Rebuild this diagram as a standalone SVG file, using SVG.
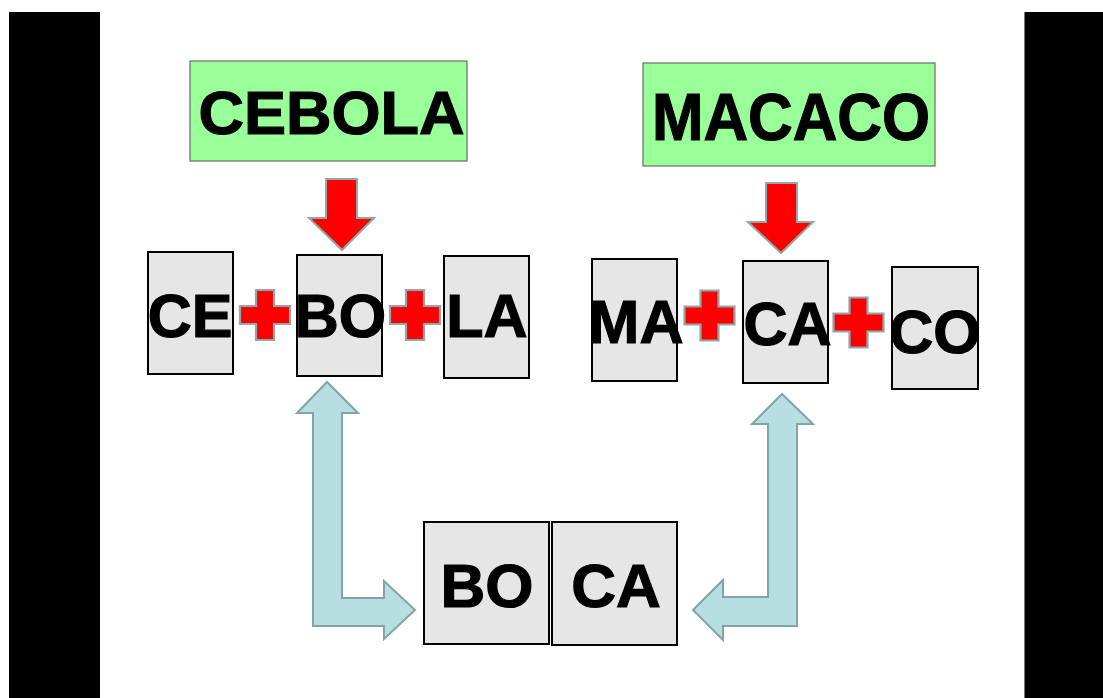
<svg xmlns="http://www.w3.org/2000/svg" width="1103" height="698" viewBox="0 0 1103 698">
  <style>
    .word { fill: #99FF99; stroke: #6b6b6b; stroke-width: 1.2; }
    .syl { fill: #E6E6E6; stroke: #000; stroke-width: 2; }
    .t { font-family: "Liberation Sans", Arial, sans-serif; font-weight: bold; fill: #000; stroke: #000; stroke-width: 1.2; text-anchor: middle; }
    .plus { fill: #FF0000; stroke: #8FA8AB; stroke-width: 2.2; }
    .down { fill: #FF0000; stroke: #8FA8AB; stroke-width: 2; }
    .link { fill: #B7DEE1; stroke: #82A4A7; stroke-width: 2; }
  </style>
  <defs>
    <path id="plusShape" d="M -9 -25 H 9 V -9 H 25 V 9 H 9 V 25 H -9 V 9 H -25 V -9 H -9 Z"/>
  </defs>

  <rect width="1103" height="698" fill="#fff"/>
  <!-- side bars -->
  <rect x="9" y="12" width="91" height="686" fill="#000"/>
  <rect x="1024" y="12" width="79" height="686" fill="#000"/>
  <line x1="1024.5" y1="12" x2="1024.5" y2="698" stroke="#777" stroke-width="1"/>

  <!-- whole words -->
  <g id="cebola">
    <rect class="word" x="190" y="61" width="277" height="100"/>
    <text class="t" x="331.5" y="134" font-size="62" textLength="266" lengthAdjust="spacingAndGlyphs">CEBOLA</text>
  </g>
  <g id="macaco">
    <rect class="word" x="643" y="63" width="292" height="103"/>
    <text class="t" x="791" y="140" font-size="66" textLength="278" lengthAdjust="spacingAndGlyphs">MACACO</text>
  </g>

  <!-- syllables -->
  <g id="ce">
    <rect class="syl" x="148" y="252" width="85" height="122"/>
    <text class="t" x="190" y="337" font-size="61">CE</text>
  </g>
  <g id="bo1">
    <rect class="syl" x="297" y="255" width="85" height="121"/>
    <text class="t" x="340.5" y="337" font-size="61">BO</text>
  </g>
  <g id="la">
    <rect class="syl" x="444" y="256" width="85" height="122"/>
    <text class="t" x="487" y="337" font-size="61">LA</text>
  </g>
  <g id="ma">
    <rect class="syl" x="592" y="259" width="85" height="122"/>
    <text class="t" x="636" y="343" font-size="61">MA</text>
  </g>
  <g id="ca1">
    <rect class="syl" x="743" y="261" width="85" height="122"/>
    <text class="t" x="787.5" y="345" font-size="61">CA</text>
  </g>
  <g id="co">
    <rect class="syl" x="892" y="267" width="86" height="122"/>
    <text class="t" x="935" y="353" font-size="61">CO</text>
  </g>

  <!-- joined word -->
  <g id="bo2">
    <rect class="syl" x="424" y="522" width="125" height="122"/>
    <text class="t" x="487" y="607" font-size="62">BO</text>
  </g>
  <g id="ca2">
    <rect class="syl" x="552" y="522" width="125" height="123"/>
    <text class="t" x="616" y="607" font-size="62">CA</text>
  </g>

  <!-- plus signs -->
  <g id="plus-signs">
    <use href="#plusShape" class="plus" x="265" y="315"/>
    <use href="#plusShape" class="plus" x="415" y="315"/>
    <use href="#plusShape" class="plus" x="709.5" y="315.5"/>
    <use href="#plusShape" class="plus" x="858.5" y="322.5"/>
  </g>

  <!-- connectors -->
  <g id="connectors">
    <path class="down" d="M 326 179 H 357 V 218 H 374 L 342 250 L 309 218 H 326 Z"/>
    <path class="down" d="M 766 183 H 797 V 222 H 813 L 781 253 L 748 222 H 766 Z"/>
    <path class="link" d="M 327 382 L 358 413 H 342 V 598 H 384 V 581 L 415 610 L 384 639 V 626 H 313 V 413 H 297 Z"/>
    <path class="link" d="M 782 394 L 813 424 H 797 V 626 H 723 V 640 L 693 610 L 723 580 V 597 H 768 V 424 H 752 Z"/>
  </g>
</svg>
